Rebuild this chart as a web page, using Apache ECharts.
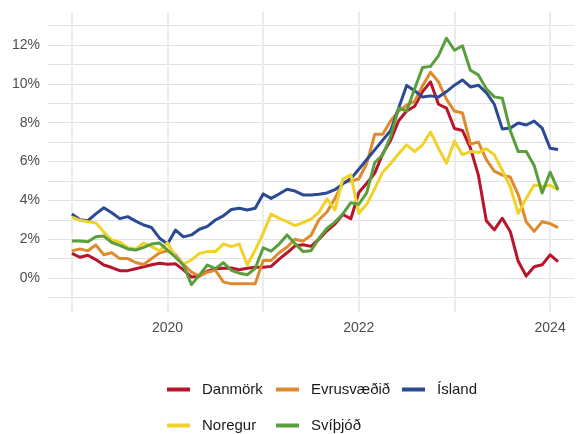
<!DOCTYPE html>
<html>
<head>
<meta charset="utf-8">
<title>Verðbólga</title>
<style type="text/css">
html,body{margin:0;padding:0;background:#fff;}
#myChart{width:580px;height:434px;}
</style>
</head>
<body>
<div id="myChart"></div>
<script type="text/javascript" src="https://cdn.jsdelivr.net/npm/echarts@6/dist/echarts.min.js"></script>
<script type="text/javascript">
// mánuðir á x-ás (okt 2018 - apr 2024), gögn byrja í jan 2019
var months = [];
for (var y = 2018; y <= 2024; y++) {
    for (var m = 1; m <= 12; m++) {
        var s = y + '-' + (m < 10 ? '0' + m : m);
        if (s >= '2018-10' && s <= '2024-04') months.push(s);
    }
}
var firstMonth = '2019-01';
var yearLabels = ['2020', '2022', '2024'];

var danmork = [1.27, 1.07, 1.17, 0.95, 0.67, 0.54, 0.38, 0.38, 0.48, 0.58, 0.68, 0.76,
    0.71, 0.73, 0.42, 0.05, 0.1, 0.35, 0.48, 0.5, 0.52, 0.43, 0.5, 0.55,
    0.56, 0.6, 0.97, 1.3, 1.66, 1.71, 1.63, 2.0, 2.43, 2.78, 3.27, 3.05,
    4.4, 4.88, 5.4, 6.4, 7.1, 8.1, 8.6, 8.85, 9.6, 10.1, 8.95, 8.75,
    7.7, 7.6, 6.7, 5.3, 2.95, 2.48, 3.08, 2.4, 0.86, 0.1, 0.58, 0.68,
    1.19, 0.84];
var evrusvaedid = [1.4, 1.5, 1.4, 1.7, 1.2, 1.3, 1.0, 1.0, 0.8, 0.7, 1.0, 1.3,
    1.4, 1.2, 0.7, 0.3, 0.1, 0.3, 0.4, -0.2, -0.3, -0.3, -0.3, -0.3,
    0.9, 0.9, 1.3, 1.6, 2.0, 1.9, 2.2, 3.0, 3.4, 4.1, 4.9, 5.0,
    5.1, 5.9, 7.4, 7.4, 8.1, 8.6, 8.9, 9.1, 9.9, 10.6, 10.1, 9.2,
    8.6, 8.5, 6.9, 7.0, 6.1, 5.5, 5.3, 5.2, 4.3, 2.9, 2.4, 2.9,
    2.8, 2.6];
var island = [3.3, 3.0, 2.95, 3.3, 3.62, 3.36, 3.06, 3.16, 2.93, 2.73, 2.6, 2.05,
    1.75, 2.47, 2.12, 2.22, 2.51, 2.66, 2.99, 3.2, 3.53, 3.59, 3.5, 3.59,
    4.33, 4.1, 4.33, 4.57, 4.48, 4.28, 4.28, 4.31, 4.38, 4.55, 4.85, 5.12,
    5.6, 6.1, 6.6, 7.1, 7.6, 8.75, 9.92, 9.65, 9.32, 9.38, 9.32, 9.6,
    9.93, 10.2, 9.84, 9.93, 9.55, 8.95, 7.68, 7.72, 7.98, 7.88, 8.08, 7.72,
    6.68, 6.62];
var noregur = [3.14, 2.97, 2.9, 2.84, 2.37, 1.96, 1.85, 1.56, 1.49, 1.8, 1.62, 1.4,
    1.81, 1.1, 0.72, 0.93, 1.27, 1.36, 1.36, 1.75, 1.62, 1.75, 0.67, 1.44,
    2.3, 3.3, 3.07, 2.9, 2.7, 2.86, 3.03, 3.38, 4.07, 3.5, 5.1, 5.31,
    3.33, 3.8, 4.6, 5.45, 5.9, 6.4, 6.86, 6.51, 6.86, 7.52, 6.68, 5.91,
    7.05, 6.35, 6.51, 6.46, 6.66, 6.34, 5.55, 4.7, 3.33, 4.1, 4.79, 4.72,
    4.78, 4.54];
var svithjod = [1.91, 1.91, 1.87, 2.13, 2.16, 1.83, 1.68, 1.5, 1.44, 1.58, 1.75, 1.8,
    1.44, 1.07, 0.66, -0.34, 0.15, 0.67, 0.48, 0.79, 0.4, 0.25, 0.17, 0.5,
    1.55, 1.38, 1.75, 2.22, 1.77, 1.36, 1.41, 2.05, 2.55, 2.88, 3.3, 3.88,
    3.8, 4.4, 5.95, 6.34, 7.3, 8.75, 8.6, 9.75, 10.84, 10.9, 11.45, 12.35,
    11.73, 11.96, 10.7, 10.46, 9.75, 9.33, 9.26, 7.6, 6.51, 6.51, 5.8, 4.38,
    5.45, 4.54];

var names = ['Danmörk', 'Evrusvæðið', 'Ísland', 'Noregur', 'Svíþjóð'];
var values = [danmork, evrusvaedid, island, noregur, svithjod];
var colors = ['#b8142c', '#df8a2c', '#2a4a93', '#f0d22a', '#5b9e3c'];

var offset = months.indexOf(firstMonth);
function toSeries(vals) {
    return vals.map(function (v, i) { return [months[offset + i], v]; });
}

var series = names.map(function (n, k) {
    return {
        name: n,
        type: 'line',
        data: toSeries(values[k]),
        symbol: 'none',
        lineStyle: {width: 3, color: colors[k], join: 'round'},
        itemStyle: {color: colors[k]},
        animation: false
    };
});

// ein legend fyrir hvern lið svo dálkar raðist eins og í myndinni
var legendPos = [[162, 377], [271, 377], [397, 377], [162, 413], [271, 413]];
var legends = names.map(function (n, k) {
    return {
        data: [n],
        left: legendPos[k][0],
        top: legendPos[k][1],
        padding: [5, 5, 2, 5],
        icon: 'rect',
        itemWidth: 23,
        itemHeight: 4,
        selectedMode: false,
        textStyle: {fontSize: 15, color: '#1a1a1a', fontFamily: 'Liberation Sans, Arial', padding: [0, 0, 0, 7]}
    };
});

var option = {
    textStyle: {fontFamily: 'Liberation Sans, Arial'},
    grid: {left: 48, right: 6, top: 12, bottom: 122},
    legend: legends,
    xAxis: {
        type: 'category',
        data: months,
        boundaryGap: false,
        axisLine: {show: false},
        axisTick: {show: false},
        axisLabel: {
            interval: function (i, v) { return yearLabels.indexOf(v.slice(0, 4)) >= 0 && v.slice(5) === '01'; },
            formatter: function (v) { return v.slice(0, 4); },
            fontSize: 14,
            color: '#4d4d4d',
            margin: 9
        },
        splitLine: {
            show: true,
            interval: function (i, v) { return v.slice(5) === '01'; },
            lineStyle: {color: '#ebebeb', width: 2}
        }
    },
    yAxis: {
        type: 'value',
        min: -1.75,
        max: 13.7,
        minInterval: 1,
        maxInterval: 1,
        splitNumber: 15,
        axisLine: {show: false},
        axisTick: {show: false},
        axisLabel: {
            showMinLabel: false,
            showMaxLabel: false,
            formatter: function (v) {
                return (Math.abs(v - Math.round(v)) < 1e-6 && Math.round(v) % 2 === 0) ? Math.round(v) + '%' : '';
            },
            fontSize: 14,
            color: '#4d4d4d',
            margin: 8
        },
        splitLine: {
            show: true,
            showMinLine: false,
            showMaxLine: false,
            lineStyle: {color: '#e1e1e1', width: 1.2}
        }
    },
    series: series
};

var myChart = echarts.init(document.getElementById('myChart'));
myChart.setOption(option);
</script>
</body>
</html>
